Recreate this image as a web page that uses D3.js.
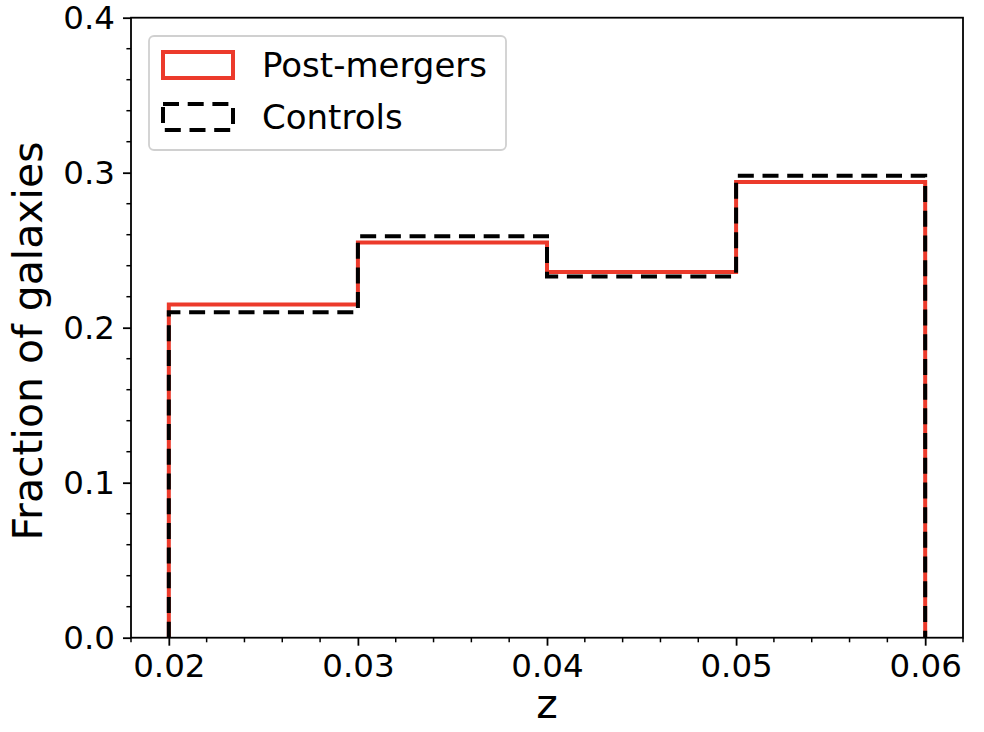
<!DOCTYPE html>
<html>
<head>
<meta charset="utf-8">
<script src="https://cdn.jsdelivr.net/npm/d3@7"></script>
<style>
  body { margin: 0; background: #fff; }
  text { font-family: "DejaVu Sans", sans-serif; fill: #000; }
</style>
</head>
<body>
<svg id="chart" width="984" height="732"></svg>
<script>
// bin edges in redshift and fraction of galaxies per bin
const binEdges = [0.02, 0.03, 0.04, 0.05, 0.06];
const postMergers = [0.215, 0.255, 0.236, 0.294];
const controls = [0.210, 0.259, 0.233, 0.298];
const xTicks = [0.02, 0.03, 0.04, 0.05, 0.06];
const yTicks = [0.0, 0.1, 0.2, 0.3, 0.4];
const seriesNames = ["Post-mergers", "Controls"];

const margin = {top: 17.7, right: 21, bottom: 94.3, left: 131};
const width = 984 - margin.left - margin.right;
const height = 732 - margin.top - margin.bottom;
const red = "#ec3a2b";

const svg = d3.select("#chart");
const g = svg.append("g").attr("transform", "translate(" + margin.left + "," + margin.top + ")");

const x = d3.scaleLinear().domain([0.018, 0.062]).range([0, width]);
const y = d3.scaleLinear().domain([0, 0.4]).range([height, 0]);

// minor ticks
const xMinor = d3.range(0.018, 0.0621, 0.002).filter(v => !xTicks.some(t => Math.abs(t - v) < 1e-6));
const yMinor = d3.range(0, 0.401, 0.02).filter(v => !yTicks.some(t => Math.abs(t - v) < 1e-6));

g.selectAll(".xminor").data(xMinor).enter().append("line")
  .attr("x1", d => x(d)).attr("x2", d => x(d))
  .attr("y1", height).attr("y2", height + 4.6)
  .attr("stroke", "#000").attr("stroke-width", 1.5);
g.selectAll(".yminor").data(yMinor).enter().append("line")
  .attr("y1", d => y(d)).attr("y2", d => y(d))
  .attr("x1", 0).attr("x2", -4.6)
  .attr("stroke", "#000").attr("stroke-width", 1.5);

const xAxis = g.append("g").attr("transform", "translate(0," + height + ")")
  .call(d3.axisBottom(x).tickValues(xTicks).tickFormat(d3.format(".2f")).tickSize(8).tickPadding(8));
const yAxis = g.append("g")
  .call(d3.axisLeft(y).tickValues(yTicks).tickFormat(d3.format(".1f")).tickSize(8).tickPadding(8));

[xAxis, yAxis].forEach(a => {
  a.select(".domain").remove();
  a.selectAll("line").attr("stroke-width", 1.8);
  a.selectAll("text").style("font-size", "32.5px").style("font-family", "DejaVu Sans");
});

// step histograms
function stepPath(vals) {
  const pts = [[binEdges[0], 0]];
  vals.forEach((v, i) => {
    pts.push([binEdges[i], v]);
    pts.push([binEdges[i + 1], v]);
  });
  pts.push([binEdges[binEdges.length - 1], 0]);
  return d3.line().x(d => x(d[0])).y(d => y(d[1]))(pts);
}

g.append("path").attr("d", stepPath(postMergers))
  .attr("fill", "none").attr("stroke", red).attr("stroke-width", 4);
g.append("path").attr("d", stepPath(controls))
  .attr("fill", "none").attr("stroke", "#000").attr("stroke-width", 4)
  .attr("stroke-dasharray", "16,8.7");

// frame
g.append("rect").attr("width", width).attr("height", height)
  .attr("fill", "none").attr("stroke", "#000").attr("stroke-width", 1.8);

// axis labels
svg.append("text")
  .attr("x", margin.left + width / 2).attr("y", 718)
  .attr("text-anchor", "middle").style("font-size", "41px").text("z");
svg.append("text")
  .attr("transform", "translate(42,341) rotate(-90)")
  .attr("text-anchor", "middle").style("font-size", "41px").text("Fraction of galaxies");

// legend
const lg = svg.append("g");
lg.append("rect").attr("x", 149).attr("y", 36).attr("width", 357).attr("height", 114)
  .attr("rx", 5).attr("fill", "#fff").attr("fill-opacity", 0.8)
  .attr("stroke", "#d0d0d0").attr("stroke-width", 1.8);
const items = lg.selectAll(".item").data(seriesNames).enter().append("g")
  .attr("transform", (d, i) => "translate(0," + (i * 52) + ")");
items.append("rect").attr("x", 163).attr("y", 52).attr("width", 70).attr("height", 26)
  .attr("fill", "none")
  .attr("stroke", (d, i) => i === 0 ? red : "#000")
  .attr("stroke-width", 4)
  .attr("stroke-dasharray", (d, i) => i === 0 ? null : "16,8.7");
items.append("text").attr("x", 262).attr("y", 77)
  .style("font-size", "34px").text(d => d);
</script>
</body>
</html>
